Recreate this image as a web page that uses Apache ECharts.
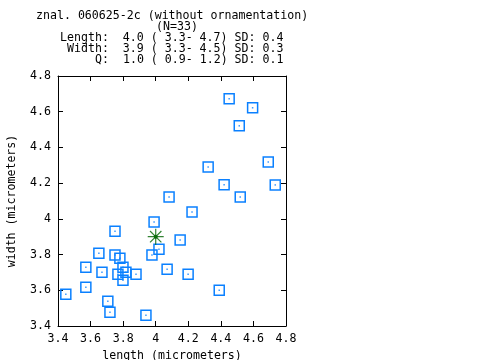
<!DOCTYPE html>
<html>
<head>
<meta charset="utf-8">
<script src="https://cdn.jsdelivr.net/npm/echarts@6/dist/echarts.min.js"></script>
<style>
html,body{margin:0;padding:0;background:#fff;}
#chart{width:480px;height:360px;}
</style>
</head>
<body>
<div id="chart"></div>
<script>
// ---- data ----
var lengths = [4.451, 4.595, 4.513, 4.322, 4.691, 4.420, 4.734, 4.082, 4.519, 4.223, 3.990,
               3.750, 4.150, 4.020, 3.651, 3.977, 3.571, 3.670, 3.879, 4.070, 4.199, 3.571,
               4.390, 3.448, 3.706, 3.719, 3.940, 3.750, 3.780, 3.799, 3.768, 3.817, 3.799];
var widths  = [4.672, 4.622, 4.521, 4.291, 4.319, 4.191, 4.190, 4.122, 4.122, 4.038, 3.982,
               3.931, 3.881, 3.830, 3.808, 3.797, 3.729, 3.701, 3.690, 3.718, 3.690, 3.617,
               3.600, 3.578, 3.539, 3.477, 3.460, 3.797, 3.780, 3.729, 3.690, 3.701, 3.656];
var meanLength = [4.0];
var meanWidth = [3.9];
var titleLines = [
  "znal. 060625-2c (without ornamentation)",
  "(N=33)",
  "Length:  4.0 ( 3.3- 4.7) SD: 0.4",
  "Width:  3.9 ( 3.3- 4.5) SD: 0.3",
  "Q:  1.0 ( 0.9- 1.2) SD: 0.1"
];
var xName = "length (micrometers)";
var yName = "width (micrometers)";
var axisMin = 3.4, axisMax = 4.8, axisStep = 0.2;

// ---- build ----
var pts = lengths.map(function (v, i) { return [v, widths[i]]; });
var meanPt = [[meanLength[0], meanWidth[0]]];
var FONT = "DejaVu Sans Mono";
var blue = "#0a80ff";
var green = "#006400";

var titleX = [36, 156, 60, 67, 95];
var titleY = [16, 27, 38, 49, 60];
var graphics = titleLines.map(function (t, i) {
  return {
    type: "text", x: titleX[i], y: titleY[i],
    style: { text: t, font: "11.6px '" + FONT + "'", fill: "#000", verticalAlign: "middle" }
  };
});

function mkX(pos, show) {
  return {
    type: "value", position: pos, min: axisMin, max: axisMax, interval: axisStep,
    name: show ? xName : "", nameLocation: "middle", nameGap: 22,
    nameTextStyle: { fontFamily: FONT, fontSize: 11.6, color: "#000" },
    axisLine: { show: true, lineStyle: { color: "#000", width: 1 } },
    axisTick: { show: true, inside: true, length: 5, lineStyle: { color: "#000" } },
    axisLabel: { show: show, fontFamily: FONT, fontSize: 11.6, color: "#000", margin: 7 },
    splitLine: { show: false }
  };
}
function mkY(pos, show) {
  return {
    type: "value", position: pos, min: axisMin, max: axisMax, interval: axisStep,
    name: show ? yName : "", nameLocation: "middle", nameGap: 40, nameRotate: 90,
    nameTextStyle: { fontFamily: FONT, fontSize: 11.6, color: "#000" },
    axisLine: { show: true, lineStyle: { color: "#000", width: 1 } },
    axisTick: { show: true, inside: true, length: 5, lineStyle: { color: "#000" } },
    axisLabel: { show: show, fontFamily: FONT, fontSize: 11.6, color: "#000", margin: 7 },
    splitLine: { show: false }
  };
}

var chart = echarts.init(document.getElementById("chart"), null, { renderer: "canvas" });
chart.setOption({
  animation: false,
  backgroundColor: "#fff",
  grid: { left: 58, top: 76, right: 194, bottom: 34, containLabel: false, outerBoundsMode: "none" },
  xAxis: [mkX("bottom", true), mkX("top", false)],
  yAxis: [mkY("left", true), mkY("right", false)],
  graphic: graphics,
  series: [
    {
      type: "scatter", data: pts, symbol: "rect", symbolSize: 10,
      itemStyle: { color: "rgba(0,0,0,0)", borderColor: blue, borderWidth: 1.5, opacity: 1 },
      emphasis: { disabled: true }
    },
    {
      type: "scatter", data: pts, symbol: "rect", symbolSize: 1.5,
      itemStyle: { color: blue }, emphasis: { disabled: true }
    },
    {
      type: "scatter", data: meanPt, symbolSize: 16,
      symbol: "path://M8 0 L8 16 M0 8 L16 8 M2.3 2.3 L13.7 13.7 M2.3 13.7 L13.7 2.3",
      itemStyle: { color: "none", borderColor: green, borderWidth: 1.2 },
      emphasis: { disabled: true }, z: 5
    },
    {
      type: "scatter", data: meanPt, symbol: "circle", symbolSize: 4,
      itemStyle: { color: green }, emphasis: { disabled: true }, z: 6
    }
  ]
});
</script>
</body>
</html>
